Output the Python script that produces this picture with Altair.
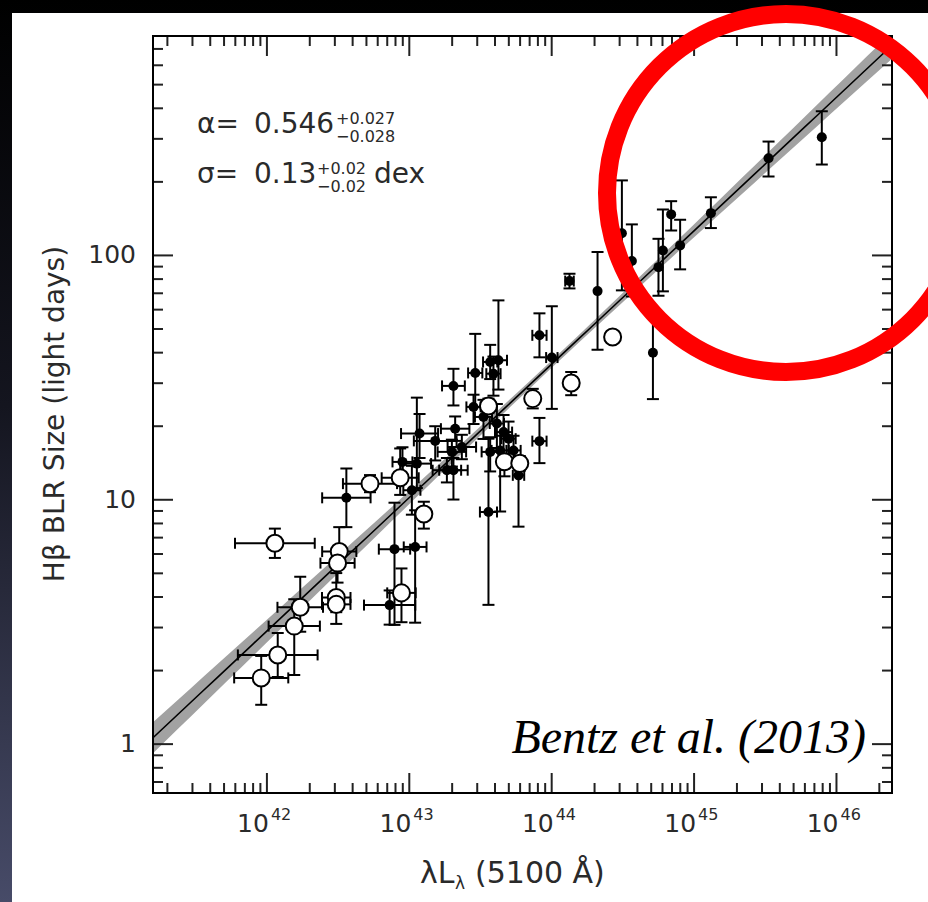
import altair as alt
import pandas as pd
import numpy as np

# ---------------- data ----------------
# open circles: log10 L(5100), log10 R(Hbeta), x error (dex), y error up / down (dex)
open_logL = [41.960, 42.076, 42.192, 42.234, 42.056, 42.508, 42.496, 42.487, 42.487, 42.724,
             42.936, 43.102, 42.945, 43.556, 43.668, 43.776, 43.867, 44.137, 44.428]
open_logR = [0.271, 0.365, 0.483, 0.560, 0.822, 0.788, 0.741, 0.600, 0.572, 1.066,
             1.090, 0.942, 0.619, 1.384, 1.156, 1.149, 1.414, 1.478, 1.666]
open_xerr = [0.19, 0.28, 0.18, 0.16, 0.28, 0.12, 0.12, 0.10, 0.10, 0.19,
             0.13, 0.00, 0.10, 0.03, 0.03, 0.03, 0.00, 0.00, 0.00]
open_yup = [0.09, 0.09, 0.11, 0.125, 0.06, 0.10, 0.05, 0.10, 0.05, 0.035,
            0.12, 0.05, 0.10, 0.03, 0.03, 0.03, 0.04, 0.045, 0.01]
open_ydn = [0.11, 0.09, 0.20, 0.10, 0.06, 0.05, 0.08, 0.06, 0.08, 0.035,
            0.07, 0.06, 0.12, 0.03, 0.06, 0.03, 0.04, 0.05, 0.01]

# filled circles
fill_logL = [42.558, 42.862, 42.896, 43.041, 43.018, 43.053, 42.952, 43.072, 43.182, 43.310,
             43.322, 43.299, 43.369, 43.264, 43.310, 43.451, 43.463, 43.521, 43.568, 43.626,
             43.591, 43.615, 43.662, 43.697, 43.568, 43.638, 43.732, 43.767, 43.556, 43.914,
             44.001, 43.914, 44.125, 44.322, 44.493, 44.563, 44.711, 44.750, 44.781, 44.839,
             44.902, 45.118, 45.523, 45.897]
fill_logR = [1.008, 0.569, 0.798, 0.807, 1.039, 1.148, 1.155, 1.271, 1.241, 1.466,
             1.291, 1.196, 1.216, 1.121, 1.121, 1.380, 1.519, 1.339, 1.564, 1.571,
             1.516, 1.312, 1.277, 1.250, 1.196, 1.202, 1.202, 1.100, 0.950, 1.673,
             1.582, 1.240, 1.895, 1.854, 2.091, 1.977, 1.602, 1.952, 2.020, 2.168,
             2.041, 2.173, 2.398, 2.484]
fill_xerr = [0.17, 0.18, 0.11, 0.08, 0.06, 0.10, 0.07, 0.13, 0.15, 0.08,
             0.10, 0.10, 0.10, 0.10, 0.10, 0.05, 0.05, 0.06, 0.05, 0.06,
             0.05, 0.05, 0.06, 0.05, 0.06, 0.06, 0.05, 0.04, 0.06, 0.05,
             0.04, 0.05, 0.03, 0.00, 0.00, 0.00, 0.00, 0.00, 0.00, 0.00,
             0.00, 0.00, 0.00, 0.00]
fill_yup = [0.12, 0.06, 0.19, 0.15, 0.10, 0.27, 0.06, 0.08, 0.06, 0.07,
            0.05, 0.05, 0.05, 0.05, 0.05, 0.05, 0.16, 0.07, 0.07, 0.245,
            0.07, 0.08, 0.07, 0.07, 0.06, 0.06, 0.06, 0.07, 0.30, 0.09,
            0.21, 0.095, 0.03, 0.16, 0.216, 0.15, 0.15, 0.116, 0.168, 0.054,
            0.105, 0.065, 0.068, 0.106]
fill_ydn = [0.12, 0.08, 0.31, 0.31, 0.10, 0.10, 0.06, 0.10, 0.08, 0.08,
            0.05, 0.06, 0.05, 0.05, 0.12, 0.07, 0.14, 0.09, 0.07, 0.12,
            0.09, 0.10, 0.09, 0.08, 0.08, 0.25, 0.06, 0.21, 0.38, 0.09,
            0.21, 0.09, 0.03, 0.24, 0.234, 0.145, 0.19, 0.117, 0.167, 0.066,
            0.098, 0.061, 0.075, 0.112]

# fit: log R = K + alpha * (log L - 44)
fit_K = 1.555
fit_alpha = 0.546
fit_sig_K = 0.015
fit_sig_alpha = 0.022

x_major = [1e42, 1e43, 1e44, 1e45, 1e46]
x_exp = ["42", "43", "44", "45", "46"]
y_major = [1.0, 10.0, 100.0]
y_labels = ["1", "10", "100"]

# ---------------- geometry ----------------
W, H = 739, 757
LOGX = (41.2, 46.39)
LOGY = (-0.2, 2.898)
xscale = alt.Scale(type="log", domain=[10 ** LOGX[0], 10 ** LOGX[1]], nice=False)
yscale = alt.Scale(type="log", domain=[10 ** LOGY[0], 10 ** LOGY[1]], nice=False)


def make(logL, logR, xerr, yup, ydn, kind):
    d = pd.DataFrame({"logL": logL, "logR": logR, "xerr": xerr, "yup": yup, "ydn": ydn})
    d["L"] = 10.0 ** d.logL
    d["R"] = 10.0 ** d.logR
    d["L_lo"] = 10.0 ** (d.logL - d.xerr)
    d["L_hi"] = 10.0 ** (d.logL + d.xerr)
    d["R_lo"] = 10.0 ** (d.logR - d.ydn)
    d["R_hi"] = 10.0 ** (d.logR + d.yup)
    d["kind"] = kind
    return d


pts = pd.concat([make(open_logL, open_logR, open_xerr, open_yup, open_ydn, "open"),
                 make(fill_logL, fill_logR, fill_xerr, fill_yup, fill_ydn, "filled")],
                ignore_index=True)
pts_x = pts[pts.xerr > 0]

g = np.linspace(LOGX[0], LOGX[1], 60)
cen = fit_K + fit_alpha * (g - 44)
half = np.sqrt(fit_sig_K ** 2 + (fit_sig_alpha * (g - 44)) ** 2)
band = pd.DataFrame({"L": 10.0 ** g, "R": 10.0 ** cen, "lo": 10.0 ** (cen - half), "hi": 10.0 ** (cen + half)})

xmin = [m * 10.0 ** e for e in range(41, 47) for m in range(2, 10)
        if LOGX[0] <= np.log10(m * 10.0 ** e) <= LOGX[1]]
ymin = [m * 10.0 ** e for e in range(-1, 3) for m in range(2, 10)
        if LOGY[0] <= np.log10(m * 10.0 ** e) <= LOGY[1]]

X = lambda f: alt.X(f, type="quantitative", scale=xscale, axis=None)
Y = lambda f: alt.Y(f, type="quantitative", scale=yscale, axis=None)
one = pd.DataFrame({"a": [0]})

# ---------------- layers ----------------
grad = alt.LinearGradient(gradient="linear",
                          stops=[alt.GradientStop(color="#000000", offset=0),
                                 alt.GradientStop(color="#14151f", offset=0.45),
                                 alt.GradientStop(color="#474b68", offset=1)],
                          x1=0, x2=0, y1=0, y2=1)
bg = alt.Chart(one).mark_rect(fill=grad).encode(
    x=alt.value(-153), x2=alt.value(775), y=alt.value(-36), y2=alt.value(866))
panel = alt.Chart(one).mark_rect(fill="white").encode(
    x=alt.value(-141), x2=alt.value(775), y=alt.value(-23), y2=alt.value(866))

band_l = alt.Chart(band).mark_area(color="#a2a2a2", clip=True).encode(
    x=X("L"), y=Y("lo"), y2="hi")
line_l = alt.Chart(band).mark_line(color="black", strokeWidth=1.6, clip=True).encode(
    x=X("L"), y=Y("R"))

vbar = alt.Chart(pts).mark_rule(color="black", strokeWidth=2).encode(x=X("L"), y=Y("R_lo"), y2="R_hi")
hbar = alt.Chart(pts_x).mark_rule(color="black", strokeWidth=2).encode(x=X("L_lo"), x2="L_hi", y=Y("R"))
cap_lo = alt.Chart(pts).mark_tick(color="black", orient="horizontal", size=12, thickness=2, opacity=1).encode(
    x=X("L"), y=Y("R_lo"))
cap_hi = alt.Chart(pts).mark_tick(color="black", orient="horizontal", size=12, thickness=2, opacity=1).encode(
    x=X("L"), y=Y("R_hi"))
cap_l = alt.Chart(pts_x).mark_tick(color="black", orient="vertical", size=11, thickness=2, opacity=1).encode(
    x=X("L_lo"), y=Y("R"))
cap_r = alt.Chart(pts_x).mark_tick(color="black", orient="vertical", size=11, thickness=2, opacity=1).encode(
    x=X("L_hi"), y=Y("R"))

filled_pts = alt.Chart(pts[pts.kind == "filled"]).mark_point(
    shape="circle", filled=True, color="black", size=100, opacity=1).encode(x=X("L"), y=Y("R"))
open_pts = alt.Chart(pts[pts.kind == "open"]).mark_point(
    shape="circle", filled=True, fill="white", stroke="black", strokeWidth=2, size=290,
    opacity=1, fillOpacity=1).encode(x=X("L"), y=Y("R"))

xmaj_df = pd.DataFrame({"v": x_major, "exp": x_exp})
xmin_df = pd.DataFrame({"v": xmin})
ymaj_df = pd.DataFrame({"v": y_major, "lab": y_labels})
ymin_df = pd.DataFrame({"v": ymin})
tk = dict(color="#222222", strokeWidth=2)

ticks = [
    alt.Chart(xmaj_df).mark_rule(**tk).encode(x=X("v"), y=alt.value(H), y2=alt.value(H - 20)),
    alt.Chart(xmaj_df).mark_rule(**tk).encode(x=X("v"), y=alt.value(0), y2=alt.value(20)),
    alt.Chart(xmin_df).mark_rule(**tk).encode(x=X("v"), y=alt.value(H), y2=alt.value(H - 10)),
    alt.Chart(xmin_df).mark_rule(**tk).encode(x=X("v"), y=alt.value(0), y2=alt.value(10)),
    alt.Chart(ymaj_df).mark_rule(**tk).encode(y=Y("v"), x=alt.value(0), x2=alt.value(20)),
    alt.Chart(ymaj_df).mark_rule(**tk).encode(y=Y("v"), x=alt.value(W), x2=alt.value(W - 20)),
    alt.Chart(ymin_df).mark_rule(**tk).encode(y=Y("v"), x=alt.value(0), x2=alt.value(10)),
    alt.Chart(ymin_df).mark_rule(**tk).encode(y=Y("v"), x=alt.value(W), x2=alt.value(W - 10)),
]
frame = alt.Chart(one).mark_rect(fillOpacity=0, stroke="black", strokeWidth=2).encode(
    x=alt.value(0), x2=alt.value(W), y=alt.value(0), y2=alt.value(H))

FONT = "DejaVu Sans"
TXT = "#2a2a2a"
ylab = alt.Chart(ymaj_df).mark_text(font=FONT, fontSize=25, color=TXT, align="right", baseline="middle").encode(
    y=Y("v"), x=alt.value(-17), text="lab:N")
xlab10 = alt.Chart(xmaj_df).mark_text(font=FONT, fontSize=25, color=TXT, align="right",
                                      baseline="alphabetic", dx=2, text="10").encode(
    x=X("v"), y=alt.value(796))
xlabexp = alt.Chart(xmaj_df).mark_text(font=FONT, fontSize=16, color=TXT, align="left",
                                       baseline="alphabetic", dx=4).encode(
    x=X("v"), y=alt.value(784), text="exp:N")


def txt(s, x, y, size, **kw):
    params = dict(font=FONT, fontSize=size, color=TXT, align="left", baseline="alphabetic", text=s)
    params.update(kw)
    return alt.Chart(one).mark_text(**params).encode(x=alt.value(x), y=alt.value(y))


ytitle = txt("Hβ BLR Size (light days)", -97, 378, 28, angle=270, align="center", baseline="middle")
xtitle = [txt("λL", 267, 847, 30), txt("λ", 302, 853, 17), txt("(5100 Å)", 322, 847, 30)]
annot = [
    txt("α=", 44, 97, 28), txt("0.546", 101, 97, 28),
    txt("+0.027", 183, 88, 16), txt("−0.028", 183, 105.5, 16),
    txt("σ=", 44, 147, 28), txt("0.13", 101, 147, 28),
    txt("+0.02", 164, 137.5, 16), txt("−0.02", 164, 155.5, 16),
    txt("dex", 221, 147, 28),
]
bentz = alt.Chart(one).mark_text(font="Liberation Serif", fontStyle="italic", fontSize=48, color="black",
                                 align="right", baseline="alphabetic", text="Bentz et al. (2013)").encode(
    x=alt.value(713), y=alt.value(717))
ring = alt.Chart(one).mark_point(shape="circle", filled=False, stroke="#ff0000", strokeWidth=18,
                                 size=358 ** 2, opacity=1).encode(x=alt.value(633), y=alt.value(157))

chart = alt.layer(
    bg, panel, band_l, line_l, vbar, hbar, cap_lo, cap_hi, cap_l, cap_r,
    filled_pts, open_pts, *ticks, frame, ylab, xlab10, xlabexp, ytitle, *xtitle, *annot, bentz, ring
).properties(
    width=W, height=H,
    autosize=alt.AutoSizeParams(type="none"),
    padding={"left": 153, "top": 36, "right": 36, "bottom": 109},
    background="#000000",
).configure_view(stroke=None)

chart.save("out.html", embed_options={"renderer": "svg", "actions": False})
